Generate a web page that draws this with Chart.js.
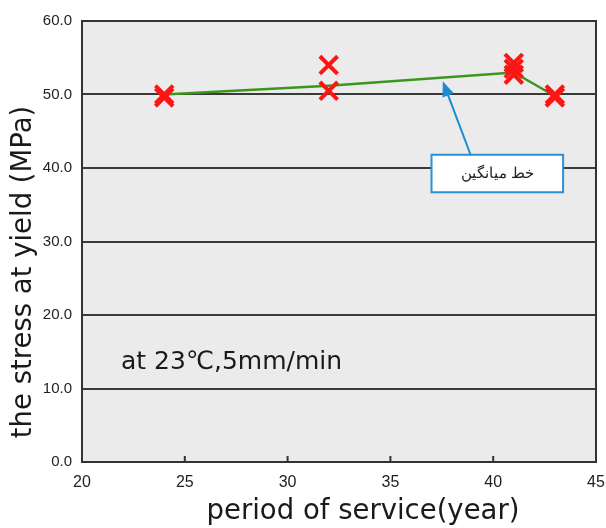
<!DOCTYPE html>
<html>
<head>
<meta charset="utf-8">
<script src="https://cdn.jsdelivr.net/npm/chart.js@4.4.0/dist/chart.umd.min.js"></script>
<style>
  html, body { margin: 0; padding: 0; background: #fff; }
  #wrap { width: 606px; height: 528px; }
</style>
</head>
<body>
<div id="wrap"><canvas id="yield-chart" width="606" height="528"></canvas></div>
<script>
// measured points
let serviceYears = Array.of(24, 24, 32, 32, 41, 41, 41, 43, 43);
let yieldStress = Array.of(50.0, 49.6, 54.0, 50.5, 54.3, 53.5, 52.7, 50.0, 49.6);

// average line
let avgYears = Array.of(24, 32, 41, 43);
let avgStress = Array.of(50.0, 51.2, 53.0, 49.8);

let xTicks = Array.of(20, 25, 30, 35, 40, 45);
let yTicks = Array.of(0, 10, 20, 30, 40, 50, 60);

let xTitle = 'period of service(year)';
let yTitle = 'the stress at yield (MPa)';
let noteText = 'at 23\u2103,5mm/min';
let avgLabel = 'خط میانگین';

const titleFont = '27.5px "DejaVu Sans", "Noto Sans", sans-serif';
const noteFont = '25px "DejaVu Sans", "Noto Sans", sans-serif';

// background, frame, titles and the arrow note
const decorations = {
    id: 'decorations',
    beforeDraw(chart) {
        const a = chart.chartArea, c = chart.ctx;
        c.save();
        c.fillStyle = '#ebebeb';
        c.fillRect(a.left, a.top, a.right - a.left, a.bottom - a.top);
        c.restore();
    },
    afterDraw(chart) {
        const a = chart.chartArea, c = chart.ctx;
        const xs = chart.scales.x, ys = chart.scales.y;
        c.save();
        c.strokeStyle = '#333';
        c.lineWidth = 2;
        c.strokeRect(a.left, a.top, a.right - a.left, a.bottom - a.top);

        // small inside ticks on the x axis
        c.beginPath();
        xTicks.slice(1, -1).forEach(v => {
            const px = xs.getPixelForValue(v);
            c.moveTo(px, a.bottom);
            c.lineTo(px, a.bottom - 6);
        });
        c.stroke();

        // axis titles
        c.fillStyle = '#1a1a1a';
        c.font = titleFont;
        c.textAlign = 'center';
        c.textBaseline = 'middle';
        c.fillText(xTitle, 363, 512);
        c.save();
        c.translate(24, 272);
        c.rotate(-Math.PI / 2);
        c.fillText(yTitle, 0, 0);
        c.restore();

        // test condition
        c.font = noteFont;
        c.textAlign = 'left';
        c.textBaseline = 'alphabetic';
        c.fillText(noteText, 121, 369);

        // arrow pointing to the average line
        const tipX = xs.getPixelForValue(37.55), tipY = ys.getPixelForValue(51.8);
        const tailX = xs.getPixelForValue(38.9), tailY = ys.getPixelForValue(41.8);
        const ang = Math.atan2(tipY - tailY, tipX - tailX);
        c.strokeStyle = '#1b8bd3';
        c.fillStyle = '#1b8bd3';
        c.lineWidth = 2;
        c.beginPath();
        c.moveTo(tailX, tailY);
        c.lineTo(tipX - 10 * Math.cos(ang), tipY - 10 * Math.sin(ang));
        c.stroke();
        c.beginPath();
        c.moveTo(tipX, tipY);
        c.lineTo(tipX - 15 * Math.cos(ang) + 6 * Math.sin(ang), tipY - 15 * Math.sin(ang) - 6 * Math.cos(ang));
        c.lineTo(tipX - 15 * Math.cos(ang) - 6 * Math.sin(ang), tipY - 15 * Math.sin(ang) + 6 * Math.cos(ang));
        c.closePath();
        c.fill();

        // label box
        const bx0 = xs.getPixelForValue(37.0), bx1 = xs.getPixelForValue(43.4);
        const by0 = ys.getPixelForValue(41.8), by1 = ys.getPixelForValue(36.7);
        c.fillStyle = '#fff';
        c.fillRect(bx0, by0, bx1 - bx0, by1 - by0);
        c.strokeStyle = '#2a90d2';
        c.strokeRect(bx0, by0, bx1 - bx0, by1 - by0);
        c.fillStyle = '#222';
        c.font = '15px "Liberation Serif", "DejaVu Serif", serif';
        c.textAlign = 'center';
        c.textBaseline = 'middle';
        c.fillText(avgLabel, (bx0 + bx1) / 2, (by0 + by1) / 2 + 1);
        c.restore();
    }
};

let measured = serviceYears.map((x, i) => ({ x: x, y: yieldStress[i] }));
let average = avgYears.map((x, i) => ({ x: x, y: avgStress[i] }));

let ctx = document.getElementById('yield-chart').getContext('2d');

var myChart = new Chart(ctx, {
    type: 'scatter',
    data: {
        datasets: [{
            label: 'measured',
            data: measured,
            pointStyle: 'crossRot',
            pointRadius: 12.5,
            pointBorderWidth: 4,
            borderColor: '#ff1414',
            backgroundColor: '#ff1414'
        }, {
            label: 'average',
            data: average,
            showLine: true,
            pointRadius: 0,
            borderColor: '#3b961c',
            borderWidth: 2.5
        }]
    },
    options: {
        responsive: false,
        animation: false,
        layout: { autoPadding: false, padding: { left: 0, right: 0, top: 21, bottom: 0 } },
        plugins: {
            legend: { display: false },
            tooltip: { enabled: false }
        },
        scales: {
            x: {
                type: 'linear',
                min: xTicks[0],
                max: xTicks[xTicks.length - 1],
                afterBuildTicks: s => { s.ticks = xTicks.map(v => ({ value: v })); },
                afterFit: s => { s.height = 66; s.paddingRight = 10; },
                grid: { display: false, drawTicks: false },
                border: { display: true, color: '#333', width: 2 },
                ticks: {
                    padding: 11,
                    color: '#222',
                    font: { family: '"Liberation Sans", Arial, sans-serif', size: 16 }
                }
            },
            y: {
                min: yTicks[0],
                max: yTicks[yTicks.length - 1],
                afterBuildTicks: s => { s.ticks = yTicks.map(v => ({ value: v })); },
                afterFit: s => { s.width = 82; },
                grid: { color: '#3a3a3a', lineWidth: 2, drawTicks: false },
                border: { display: true, color: '#333', width: 2 },
                ticks: {
                    padding: 10,
                    color: '#222',
                    font: { family: '"Liberation Sans", Arial, sans-serif', size: 15 },
                    callback: v => v.toFixed(1)
                }
            }
        }
    },
    plugins: [decorations]
});
</script>
</body>
</html>
